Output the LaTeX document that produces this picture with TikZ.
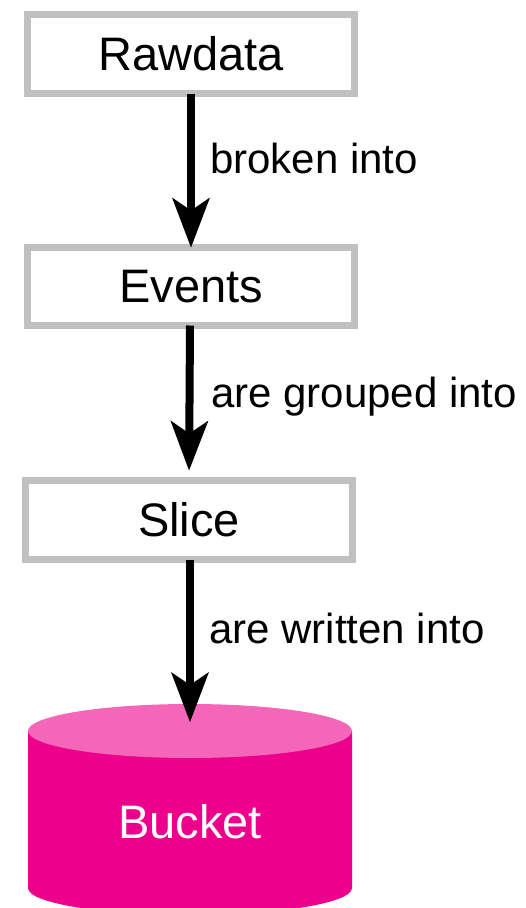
\documentclass[tikz,border=0pt]{standalone}
\usepackage{fontspec}
\setmainfont{Liberation Sans}
\usetikzlibrary{arrows.meta}
\definecolor{boxgray}{HTML}{C0C0C0}
\definecolor{bucketbody}{HTML}{EC008C}
\definecolor{buckettop}{HTML}{F466B8}
\tikzset{
  stepbox/.style={draw=boxgray, line width=7pt, fill=white, outer sep=0pt,
    minimum width=327pt, minimum height=79pt, inner sep=0pt,
    font=\fontsize{47}{50}\selectfont},
  flow/.style={line width=8pt, -{Stealth[length=50pt,width=38pt,inset=13pt,line width=0pt]}},
  lbl/.style={anchor=base west, inner sep=0pt, font=\fontsize{42}{45}\selectfont}
}
\begin{document}
\begin{tikzpicture}[x=1pt,y=-1pt]
\useasboundingbox (0,0) rectangle (525,908);
\clip (0,0) rectangle (525,908);
% bucket cylinder
\fill[bucketbody] (28,731) -- (28,888) arc[start angle=180,end angle=0,x radius=162,y radius=27] -- (352,731) -- cycle;
\fill[buckettop] (190,731) ellipse[x radius=162,y radius=27];
\node[text=white, font=\fontsize{47}{50}\selectfont, anchor=base] (bucket) at (190,838) {Bucket};
\coordinate (buckettopc) at (190,722);
% boxes
\node[stepbox] (raw) at (191,54) {Rawdata};
\node[stepbox, minimum height=78pt] (events) at (191,286.5) {Events};
\node[stepbox] (slice) at (189,520) {Slice};
% arrows
\draw[flow] (raw.south) -- (events.north);
\draw[flow, shorten >=10pt] ([xshift=-1pt]events.south) -- (slice.north);
\draw[flow] ([xshift=1pt]slice.south) -- (buckettopc);
% labels
\node[lbl] (l1) at (210,173) {broken into};
\node[lbl] (l2) at (211,407) {are grouped into};
\node[lbl] (l3) at (209,643) {are written into};
\end{tikzpicture}
\end{document}
